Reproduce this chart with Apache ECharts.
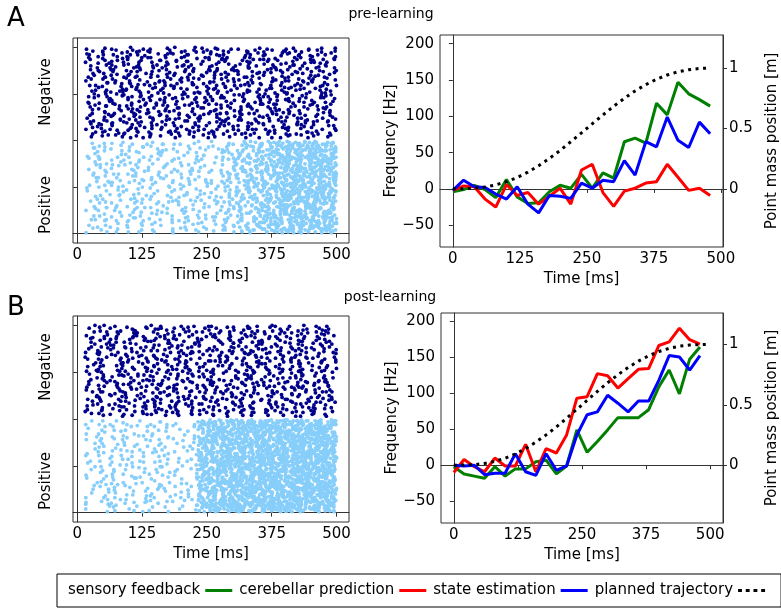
<!DOCTYPE html>
<html><head><meta charset="utf-8">
<script src="https://cdn.jsdelivr.net/npm/echarts@6/dist/echarts.min.js"></script>
<style>html,body{margin:0;padding:0;background:#fff}#c{width:781px;height:610px}</style>
</head><body><div id="c"></div>
<script>
// ---------- tick labels ----------
const timeTicks = [0, 125, 250, 375, 500];
const freqTicks = [-50, 0, 50, 100, 150, 200];
const posTicks = [0, 0.5, 1];
const neuronTicks = [0, 50, 100, 150, 200];

// ---------- line panels (time in ms) ----------
const lineTimes = [0,20,40,60,80,100,120,140,160,180,200,220,240,260,280,300,320,340,360,380,400,420,440,460,480];
const trajTimes = [0,20,40,60,80,100,120,140,160,180,200,220,240,260,280,300,320,340,360,380,400,420,440,460,480,500];
const trajectory = [0,0.001,0.005,0.014,0.032,0.058,0.093,0.138,0.191,0.251,0.317,0.389,0.463,0.538,0.611,0.683,0.749,0.810,0.862,0.907,0.942,0.968,0.986,0.996,0.999,1.0];

const preGreen = [-4,-1,5,-1,-12,13,-11,-20,-19,-4,5,1,20,1,22,15,65,70,63,118,102,147,131,123,114];
const preRed   = [-2,4,3,-14,-25,6,-9,-5,-21,-10,1,-21,26,34,-5,-24,-3,1,8,10,34,16,-2,1,-9];
const preBlue  = [-2,12,3,2,-7,-14,3,-21,-33,-9,-10,-13,8,1,12,10,39,19,65,58,99,67,57,92,76];

const postGreen = [-2,-12,-15,-18,-2,-15,-5,-5,5,7,-12,-1,49,18,33,49,66,66,66,77,109,132,99,147,164];
const postRed   = [-10,8,-2,-9,10,-1,-1,29,-9,23,17,42,93,95,127,124,107,120,133,134,166,171,190,174,168];
const postBlue  = [0,-1,0,-13,-11,-11,16,-9,-14,16,-7,-1,42,70,74,97,86,74,89,89,118,152,150,132,152];

// ---------- raster panels: spike counts per time bin (20 bins, 15..500 ms) ----------
const rasterStart = 15, rasterEnd = 500;
const preNegCounts  = [38,46,45,47,46,46,45,46,46,45,46,47,46,45,46,46,47,46,45,45];
const prePosCounts  = [28,36,34,32,33,34,32,32,34,33,35,50,75,85,100,140,155,155,150,150];
const postNegCounts = [36,45,46,46,45,46,45,46,45,46,45,46,44,46,45,46,45,45,46,45];
const postPosCounts = [24,34,33,32,29,31,26,24,28,135,165,180,190,200,205,210,210,210,210,205];
const posIds = [1, 99], negIds = [103, 200];

const legendNames = ['sensory feedback', 'cerebellar prediction', 'state estimation', 'planned trajectory'];

// deterministic placement of each bin's spike count inside its time bin:
// neuron rows are stratified, spike times jittered by a fixed integer hash
function seq(seed) {
  let a = seed >>> 0;
  return function () {
    a = (a + 0x6D2B79F5) | 0;
    let t = Math.imul(a ^ (a >>> 15), 1 | a);
    t = (t + Math.imul(t ^ (t >>> 7), 61 | t)) ^ t;
    return ((t ^ (t >>> 14)) >>> 0) / 4294967296;
  };
}
function rasterPoints(counts, ids, seed) {
  const next = seq(seed);
  const w = (rasterEnd - rasterStart) / counts.length;
  const pts = [];
  counts.forEach((n, i) => {
    for (let j = 0; j < n; j++) {
      const u = next(), v = (j + next()) / n;
      pts.push([rasterStart + (i + u) * w, Math.round(ids[0] + v * (ids[1] - ids[0]))]);
    }
  });
  return pts;
}
const pairs = (xs, ys) => ys.map((y, i) => [xs[i], y]);

const FONT = '"DejaVu Sans", sans-serif';
const minus = v => String(v).replace('-', '\u2212');
const txt = { color: '#000', fontFamily: FONT, fontSize: 15 };

function xAx(grid, min, max) {
  return {
    type: 'value', gridIndex: grid, min, max,
    name: 'Time [ms]', nameLocation: 'middle', nameGap: 25, nameTextStyle: txt,
    axisLine: { show: true, lineStyle: { color: '#333' } },
    axisTick: { show: true, length: 4, customValues: timeTicks, lineStyle: { color: '#333' } },
    axisLabel: { ...txt, margin: 5, customValues: timeTicks, formatter: minus },
    splitLine: { show: false }
  };
}
function yRaster(grid) {
  return {
    type: 'value', gridIndex: grid, min: -10, max: 210,
    axisLine: { show: true, lineStyle: { color: '#333' } },
    axisTick: { show: true, length: 4, customValues: neuronTicks, lineStyle: { color: '#333' } },
    axisLabel: { show: false }, splitLine: { show: false }
  };
}
function yFreq(grid, min, max) {
  return {
    type: 'value', gridIndex: grid, min, max, position: 'left',
    name: 'Frequency [Hz]', nameLocation: 'middle', nameRotate: 90, nameGap: 35, nameTextStyle: txt,
    axisLine: { show: true, lineStyle: { color: '#333' } },
    axisTick: { show: true, length: 4, customValues: freqTicks, lineStyle: { color: '#333' } },
    axisLabel: { ...txt, margin: 6, customValues: freqTicks, formatter: minus },
    splitLine: { show: false }
  };
}
function yPos(grid, min, max) {
  return {
    type: 'value', gridIndex: grid, min, max, position: 'right',
    name: 'Point mass position [m]', nameLocation: 'middle', nameRotate: 90, nameGap: 42, nameTextStyle: txt,
    axisLine: { show: true, lineStyle: { color: '#333' } },
    axisTick: { show: true, length: 4, customValues: posTicks, lineStyle: { color: '#333' } },
    axisLabel: { ...txt, margin: 6, customValues: posTicks, formatter: v => String(v) },
    splitLine: { show: false }
  };
}
function scatter(x, y, data, color) {
  return { type: 'scatter', xAxisIndex: x, yAxisIndex: y, data, symbol: 'circle', symbolSize: 3.8,
    itemStyle: { color, opacity: 1 }, silent: true };
}
function line(name, x, y, data, color) {
  return { name, type: 'line', xAxisIndex: x, yAxisIndex: y, data, symbol: 'none', showSymbol: false,
    lineStyle: { color, width: 3 }, itemStyle: { color } };
}
function traj(x, y, data) {
  return { name: legendNames[3], type: 'line', xAxisIndex: x, yAxisIndex: y, data, symbol: 'none', showSymbol: false,
    lineStyle: { color: '#000', width: 3, type: [3, 4.5], cap: 'butt' }, itemStyle: { color: '#000' } };
}

const option = {
  animation: false,
  textStyle: { fontFamily: FONT },
  grid: [
    { left: 73, top: 38, width: 276, height: 205, show: true, borderColor: '#333', borderWidth: 1 },
    { left: 440, top: 35, width: 284, height: 212, show: true, borderColor: '#333', borderWidth: 1 },
    { left: 73, top: 316, width: 276, height: 206, show: true, borderColor: '#333', borderWidth: 1 },
    { left: 441, top: 313, width: 282, height: 210, show: true, borderColor: '#333', borderWidth: 1 }
  ],
  xAxis: [xAx(0, -8, 524), xAx(1, -24, 504), xAx(2, -8, 524), xAx(3, -25, 525)],
  yAxis: [yRaster(0), yFreq(1, -80, 212), yPos(1, -0.482, 1.273), yRaster(2), yFreq(3, -80, 211), yPos(3, -0.479, 1.261)],
  legend: {
    data: [
      { name: legendNames[0], icon: 'rect', itemStyle: { color: '#008000' } },
      { name: legendNames[1], icon: 'rect', itemStyle: { color: '#ff0000' } },
      { name: legendNames[2], icon: 'rect', itemStyle: { color: '#0000ff' } },
      { name: legendNames[3], icon: 'path://M0,0h4v3h-4z M8,0h4v3h-4z M16,0h4v3h-4z M24,0h4v3h-4z', itemStyle: { color: '#000' } }
    ],
    left: 57, top: 574, width: 760, align: 'right', orient: 'horizontal',
    padding: [9, 16, 9, 11], itemGap: 7, itemWidth: 27, itemHeight: 3,
    borderColor: '#000', borderWidth: 1, borderRadius: 0,
    textStyle: { color: '#000', fontFamily: FONT, fontSize: 15 }, selectedMode: false
  },
  graphic: [
    { type: 'text', x: 7, y: 19, style: { text: 'A', fontSize: 26, fontFamily: FONT, fill: '#000', align: 'left', verticalAlign: 'middle' } },
    { type: 'text', x: 7, y: 308, style: { text: 'B', fontSize: 26, fontFamily: FONT, fill: '#000', align: 'left', verticalAlign: 'middle' } },
    { type: 'text', x: 391, y: 14, style: { text: 'pre-learning', fontSize: 14, fontFamily: FONT, fill: '#000', align: 'center', verticalAlign: 'middle' } },
    { type: 'text', x: 390, y: 297, style: { text: 'post-learning', fontSize: 14, fontFamily: FONT, fill: '#000', align: 'center', verticalAlign: 'middle' } },
    { type: 'text', x: 46, y: 92, rotation: Math.PI / 2, style: { text: 'Negative', fontSize: 15, fontFamily: FONT, fill: '#000', align: 'center', verticalAlign: 'middle' } },
    { type: 'text', x: 46, y: 205, rotation: Math.PI / 2, style: { text: 'Positive', fontSize: 15, fontFamily: FONT, fill: '#000', align: 'center', verticalAlign: 'middle' } },
    { type: 'text', x: 46, y: 367, rotation: Math.PI / 2, style: { text: 'Negative', fontSize: 15, fontFamily: FONT, fill: '#000', align: 'center', verticalAlign: 'middle' } },
    { type: 'text', x: 46, y: 481, rotation: Math.PI / 2, style: { text: 'Positive', fontSize: 15, fontFamily: FONT, fill: '#000', align: 'center', verticalAlign: 'middle' } }
  ],
  series: [
    scatter(0, 0, rasterPoints(preNegCounts, negIds, 11), '#00008b'),
    scatter(0, 0, rasterPoints(prePosCounts, posIds, 23), '#87cefa'),
    scatter(2, 3, rasterPoints(postNegCounts, negIds, 37), '#00008b'),
    scatter(2, 3, rasterPoints(postPosCounts, posIds, 53), '#87cefa'),
    line(legendNames[0], 1, 1, pairs(lineTimes, preGreen), '#008000'),
    line(legendNames[1], 1, 1, pairs(lineTimes, preRed), '#ff0000'),
    line(legendNames[2], 1, 1, pairs(lineTimes, preBlue), '#0000ff'),
    traj(1, 2, pairs(trajTimes.slice(0, 25), trajectory.slice(0, 25))),
    line(legendNames[0], 3, 4, pairs(lineTimes, postGreen), '#008000'),
    line(legendNames[1], 3, 4, pairs(lineTimes, postRed), '#ff0000'),
    line(legendNames[2], 3, 4, pairs(lineTimes, postBlue), '#0000ff'),
    traj(3, 5, pairs(trajTimes, trajectory))
  ]
};
const chart = echarts.init(document.getElementById('c'), null, { renderer: 'canvas' });
chart.setOption(option);
</script></body></html>
